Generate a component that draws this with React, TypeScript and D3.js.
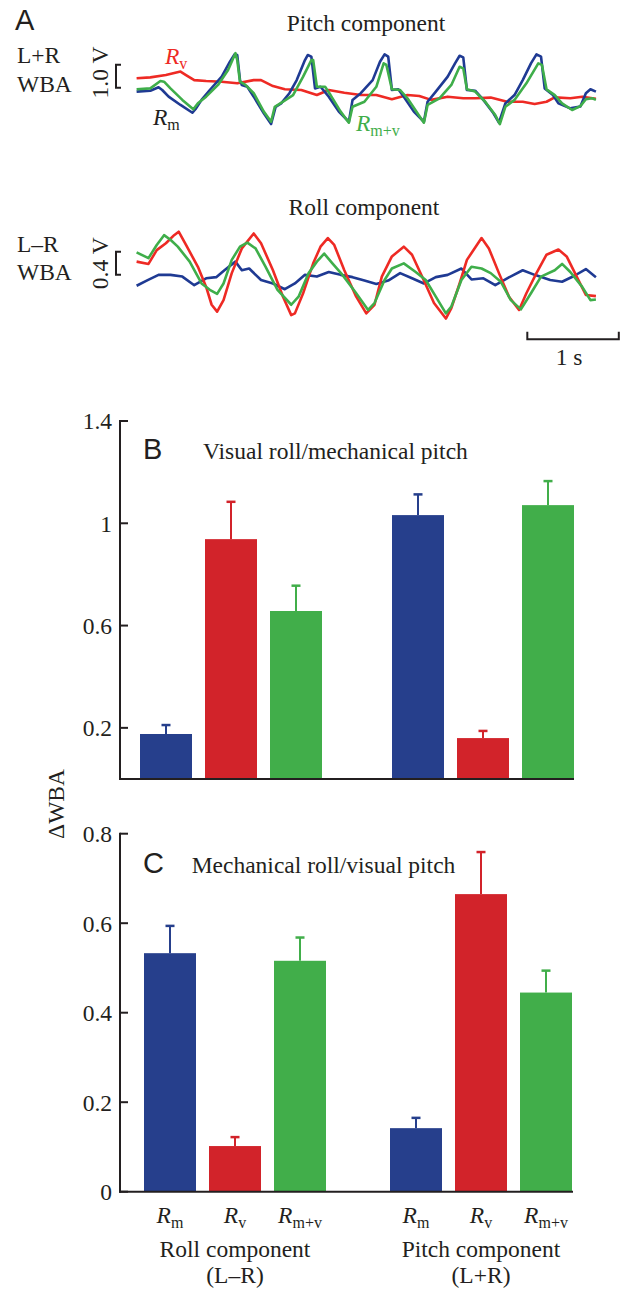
import React from "react";
import * as d3 from "d3";

// ---------- Panel A data (time in s, WBA in V) ----------
const pitchRm: [number, number][] = [
  [0, -0.07], [0.15, -0.03], [0.24, 0.12], [0.28, 0.0], [0.35, -0.29], [0.48, -0.65], [0.61, -0.99], [0.65, -0.8],
  [0.71, -0.43], [0.8, 0], [0.93, 0.58], [1.02, 1.23], [1.07, 1.55], [1.1, 1.52], [1.13, 0.43], [1.15, 0.22],
  [1.21, 0.14], [1.28, -0.29], [1.39, -1.01], [1.47, -1.48], [1.52, -0.73], [1.58, -0.58], [1.67, -0.14], [1.75, 0.43],
  [1.84, 1.3], [1.87, 1.52], [1.91, 1.45], [1.95, 0.07], [2.01, 0.14], [2.1, -0.29], [2.21, -0.94], [2.32, -1.38],
  [2.36, -0.43], [2.45, -0.14], [2.58, 0.43], [2.66, 1.23], [2.71, 1.55], [2.75, 1.45], [2.79, 0], [2.86, 0.03],
  [2.92, -0.29], [3.03, -0.94], [3.14, -1.38], [3.18, -0.51], [3.27, -0.07], [3.4, 0.58], [3.48, 1.16], [3.53, 1.49],
  [3.57, 1.42], [3.61, 0], [3.7, -0.03], [3.79, -0.43], [3.9, -1.01], [3.96, -1.42], [4.03, -0.58], [4.13, -0.22],
  [4.22, 0.43], [4.31, 1.16], [4.37, 1.55], [4.42, 1.45], [4.46, 0.07], [4.55, -0.22], [4.61, -0.58], [4.74, -0.8],
  [4.85, -0.72], [4.91, -0.14], [4.96, 0.03], [5.02, -0.07],
];
const pitchRmv: [number, number][] = [
  [0, 0.03], [0.15, 0.07], [0.26, 0.39], [0.3, 0.36], [0.37, 0.07], [0.5, -0.43], [0.62, -0.84], [0.67, -0.58],
  [0.76, -0.29], [0.89, 0.22], [1.0, 0.87], [1.08, 1.6], [1.1, 1.3], [1.13, 0.36], [1.19, 0.22], [1.28, -0.14],
  [1.39, -0.94], [1.47, -1.38], [1.51, -0.73], [1.6, -0.51], [1.71, -0.22], [1.82, 0.58], [1.91, 1.3], [1.93, 1.3],
  [1.97, 0.14], [2.06, 0.14], [2.12, -0.22], [2.23, -0.94], [2.32, -1.42], [2.36, -0.73], [2.49, -0.51], [2.62, 0.14],
  [2.7, 1.16], [2.73, 1.09], [2.79, 0.03], [2.88, 0], [2.96, -0.36], [3.07, -1.01], [3.14, -1.42], [3.18, -0.65],
  [3.31, -0.36], [3.44, 0.22], [3.53, 1.01], [3.57, 0.94], [3.61, 0.03], [3.7, -0.07], [3.81, -0.51], [3.92, -1.09],
  [3.97, -1.48], [4.03, -0.73], [4.13, -0.43], [4.26, 0.29], [4.39, 1.16], [4.43, 1.09], [4.48, 0.03], [4.57, -0.22],
  [4.65, -0.58], [4.76, -0.87], [4.85, -0.7], [4.91, -0.4], [4.98, -0.36], [5.02, -0.43],
];
const pitchRv: [number, number][] = [
  [0, 0.51], [0.15, 0.55], [0.32, 0.65], [0.48, 0.8], [0.54, 0.65], [0.63, 0.43], [0.76, 0.39], [0.93, 0.36],
  [1.1, 0.29], [1.28, 0.43], [1.36, 0.43], [1.49, 0.17], [1.62, 0.03], [1.8, 0], [1.97, -0.22], [2.1, 0],
  [2.27, -0.12], [2.45, -0.22], [2.62, -0.22], [2.79, -0.4], [2.96, -0.22], [3.09, -0.26], [3.22, -0.43], [3.4, -0.29],
  [3.57, -0.36], [3.7, -0.36], [3.87, -0.33], [4.05, -0.51], [4.22, -0.51], [4.35, -0.61], [4.48, -0.51], [4.57, -0.32],
  [4.74, -0.36], [4.87, -0.29], [5.02, -0.38],
];
const rollRm: [number, number][] = [
  [0, -0.17], [0.11, -0.08], [0.24, 0.02], [0.37, 0.02], [0.5, -0.01], [0.63, -0.16], [0.76, -0.04], [0.87, -0.02],
  [0.96, 0.1], [1.08, 0.25], [1.15, 0.1], [1.23, 0.13], [1.36, -0.07], [1.49, -0.13], [1.62, -0.23], [1.73, -0.13],
  [1.84, 0.02], [1.97, -0.01], [2.1, 0.07], [2.23, 0.02], [2.36, -0.02], [2.49, -0.08], [2.62, -0.14], [2.75, -0.08],
  [2.88, 0.05], [3.01, -0.04], [3.14, -0.13], [3.27, -0.02], [3.4, 0.02], [3.55, 0.13], [3.66, -0.06], [3.79, -0.04],
  [3.92, -0.16], [4.05, -0.04], [4.22, 0.1], [4.35, 0.02], [4.52, -0.07], [4.65, -0.1], [4.78, 0], [4.91, 0.12],
  [5.02, -0.02],
];
const rollRv: [number, number][] = [
  [0, 0.25], [0.13, 0.21], [0.22, 0.45], [0.32, 0.57], [0.41, 0.71], [0.46, 0.77], [0.54, 0.54], [0.67, 0.16],
  [0.76, -0.19], [0.82, -0.5], [0.88, -0.62], [0.95, -0.42], [1.04, 0.05], [1.15, 0.48], [1.28, 0.74], [1.36, 0.57],
  [1.49, 0.1], [1.6, -0.36], [1.69, -0.68], [1.73, -0.65], [1.82, -0.3], [1.93, 0.22], [2.01, 0.51], [2.09, 0.66],
  [2.16, 0.54], [2.27, 0.1], [2.4, -0.36], [2.51, -0.65], [2.6, -0.5], [2.68, -0.01], [2.79, 0.34], [2.92, 0.51],
  [3.01, 0.37], [3.12, -0.01], [3.25, -0.47], [3.38, -0.74], [3.44, -0.56], [3.53, -0.13], [3.61, 0.28], [3.77, 0.66],
  [3.85, 0.48], [3.96, 0.05], [4.07, -0.36], [4.18, -0.59], [4.26, -0.3], [4.37, 0.05], [4.48, 0.37], [4.61, 0.46],
  [4.7, 0.34], [4.81, -0.01], [4.91, -0.33], [5.02, -0.35],
];
const rollRmv: [number, number][] = [
  [0, 0.41], [0.13, 0.31], [0.22, 0.54], [0.3, 0.71], [0.37, 0.63], [0.45, 0.51], [0.58, 0.25], [0.71, -0.13],
  [0.8, -0.24], [0.88, -0.31], [0.95, -0.13], [1.04, 0.28], [1.13, 0.51], [1.21, 0.58], [1.3, 0.48], [1.41, 0.16],
  [1.54, -0.24], [1.69, -0.5], [1.77, -0.36], [1.88, 0.05], [1.97, 0.25], [2.05, 0.39], [2.14, 0.22], [2.25, 0.02],
  [2.4, -0.3], [2.53, -0.59], [2.6, -0.47], [2.71, -0.07], [2.79, 0.13], [2.92, 0.22], [3.05, 0.07], [3.16, -0.07],
  [3.27, -0.36], [3.38, -0.65], [3.44, -0.53], [3.55, -0.07], [3.66, 0.16], [3.77, 0.13], [3.87, 0.05], [3.98, -0.1],
  [4.09, -0.42], [4.2, -0.58], [4.31, -0.3], [4.42, -0.01], [4.57, 0.1], [4.65, 0.21], [4.74, 0.07], [4.87, -0.19],
  [4.96, -0.42], [5.02, -0.41],
];

// ---------- Panels B & C data ----------
const responses = ["m", "v", "m+v"];
const groupNames = ["Roll component", "Pitch component"];
const groupSubs = ["(L–R)", "(L+R)"];
const bRollMean = [0.176, 0.938, 0.657];
const bRollSem = [0.035, 0.146, 0.099];
const bPitchMean = [1.032, 0.16, 1.071];
const bPitchSem = [0.081, 0.028, 0.094];
const cRollMean = [0.533, 0.102, 0.516];
const cRollSem = [0.061, 0.02, 0.052];
const cPitchMean = [0.142, 0.665, 0.445];
const cPitchSem = [0.023, 0.094, 0.049];
const bTicks = [0.2, 0.6, 1, 1.4];
const bTickLabels = ["0.2", "0.6", "1", "1.4"];
const cTicks = [0, 0.2, 0.4, 0.6, 0.8];
const cTickLabels = ["0", "0.2", "0.4", "0.6", "0.8"];

const BAR_COLORS = ["#263f8c", "#d2232a", "#41ae4a"];
const TRACE_COLORS = { m: "#1f3a93", v: "#ee2a24", mv: "#3fae4a" };
const SERIF = "'Liberation Serif', 'Times New Roman', serif";
const SANS = "'Liberation Sans', Arial, sans-serif";
const FS = 23.5;
const AX = "#231f20";

const tScale = d3.scaleLinear().domain([0, 1]).range([136.6, 228.1]);
const pitchY = d3.scaleLinear().domain([0, 1]).range([90, 67]);
const rollY = d3.scaleLinear().domain([0, 0.4]).range([276, 253]);

function RLabel({ x, y, sub, color, anchor = "start" }: { x: number; y: number; sub: string; color: string; anchor?: string }) {
  return (
    <text x={x} y={y} fill={color} fontFamily={SERIF} fontSize={FS} textAnchor={anchor}>
      <tspan fontStyle="italic">R</tspan>
      <tspan fontSize={16} dy={5}>{sub}</tspan>
    </text>
  );
}

function Trace({ data, y, color }: { data: [number, number][]; y: d3.ScaleLinear<number, number>; color: string }) {
  const line = d3.line<[number, number]>().x((d) => tScale(d[0])).y((d) => y(d[1]));
  return <path d={line(data) || ""} fill="none" stroke={color} strokeWidth={2.6} strokeLinejoin="round" />;
}

function Bracket({ y, v0, v1, x }: { y: d3.ScaleLinear<number, number>; v0: number; v1: number; x: number }) {
  const a = y(v0), b = y(v1);
  return <path d={`M${x + 5},${a} H${x} V${b} H${x + 5}`} fill="none" stroke={AX} strokeWidth={2} />;
}

function BarPanel({
  yDomain, yRange, ticks, tickLabels, rollMean, rollSem, pitchMean, pitchSem, groupStarts, axisEnd,
  letter, letterY, title, titleX, showCats,
}: any) {
  const y = d3.scaleLinear().domain(yDomain).range(yRange);
  const axisX = 120;
  const y0 = y(0);
  const groups = [
    { mean: rollMean, sem: rollSem },
    { mean: pitchMean, sem: pitchSem },
  ];
  return (
    <g>
      {groups.map((g, gi) => {
        const xb = d3.scaleBand<string>().domain(responses).range([groupStarts[gi], groupStarts[gi] + 182]).paddingInner(0.2).paddingOuter(0);
        return (
          <g key={gi}>
            {responses.map((r, i) => {
              const x = xb(r)!;
              const w = xb.bandwidth();
              const top = y(g.mean[i]);
              const et = y(g.mean[i] + g.sem[i]);
              const cx = x + w / 2;
              return (
                <g key={r}>
                  <rect x={x} y={top} width={w} height={y0 - top} fill={BAR_COLORS[i]} />
                  <line x1={cx} x2={cx} y1={top} y2={et} stroke={BAR_COLORS[i]} strokeWidth={2} />
                  <line x1={cx - 4.5} x2={cx + 4.5} y1={et} y2={et} stroke={BAR_COLORS[i]} strokeWidth={2.5} />
                  {showCats && <RLabel x={cx} y={1222.7} sub={r} color="#231f20" anchor="middle" />}
                </g>
              );
            })}
            {showCats && (
              <>
                <text x={groupStarts[gi] + 91} y={1256.7} textAnchor="middle" fontFamily={SERIF} fontSize={FS} fill="#231f20">{groupNames[gi]}</text>
                <text x={groupStarts[gi] + 91} y={1282.7} textAnchor="middle" fontFamily={SERIF} fontSize={FS} fill="#231f20">{groupSubs[gi]}</text>
              </>
            )}
          </g>
        );
      })}
      <line x1={axisX} x2={axisX} y1={y(yDomain[1]) - 1} y2={y0 + 1} stroke={AX} strokeWidth={2} />
      <line x1={axisX - 1} x2={axisEnd} y1={y0} y2={y0} stroke={AX} strokeWidth={2} />
      {ticks.map((t: number, i: number) => (
        <g key={t}>
          <line x1={axisX} x2={axisX + 8} y1={y(t)} y2={y(t)} stroke={AX} strokeWidth={2} />
          <text x={112} y={y(t) + 8.3} textAnchor="end" fontFamily={SERIF} fontSize={FS} fill="#231f20">{tickLabels[i]}</text>
        </g>
      ))}
      <text x={143} y={letterY} fontFamily={SANS} fontSize={29} fill="#231f20">{letter}</text>
      <text x={titleX} y={letterY} fontFamily={SERIF} fontSize={FS} fill="#231f20">{title}</text>
    </g>
  );
}

export default function App() {
  return (
    <svg width={621} height={1291} style={{ position: "absolute", left: 0, top: 0, background: "#fff" }} fontFamily={SERIF}>
      {/* Panel A */}
      <text x={15} y={30} fontFamily={SANS} fontSize={29} fill="#231f20">A</text>
      <text x={366} y={31} textAnchor="middle" fontSize={FS} fill="#231f20">Pitch component</text>
      <text x={17} y={62.7} fontSize={FS} fill="#231f20">L+R</text>
      <text x={17} y={91.7} fontSize={FS} fill="#231f20">WBA</text>
      <text transform={`translate(108,${72.5}) rotate(-90)`} textAnchor="middle" fontSize={FS} fill="#231f20">1.0 V</text>
      <Bracket y={pitchY} v0={0.1} v1={1.1} x={116} />
      <Trace data={pitchRv} y={pitchY} color={TRACE_COLORS.v} />
      <Trace data={pitchRm} y={pitchY} color={TRACE_COLORS.m} />
      <Trace data={pitchRmv} y={pitchY} color={TRACE_COLORS.mv} />
      <RLabel x={165} y={64} sub="v" color={TRACE_COLORS.v} />
      <RLabel x={153} y={125} sub="m" color="#231f20" />
      <RLabel x={356} y={131} sub="m+v" color={TRACE_COLORS.mv} />

      <text x={364} y={215} textAnchor="middle" fontSize={FS} fill="#231f20">Roll component</text>
      <text x={17} y={252} fontSize={FS} fill="#231f20">L–R</text>
      <text x={17} y={280} fontSize={FS} fill="#231f20">WBA</text>
      <text transform={`translate(108,${263.3}) rotate(-90)`} textAnchor="middle" fontSize={FS} fill="#231f20">0.4 V</text>
      <Bracket y={rollY} v0={0.02} v1={0.42} x={116} />
      <Trace data={rollRm} y={rollY} color={TRACE_COLORS.m} />
      <Trace data={rollRv} y={rollY} color={TRACE_COLORS.v} />
      <Trace data={rollRmv} y={rollY} color={TRACE_COLORS.mv} />
      {/* scale bar: 1 s */}
      <path d={`M${tScale(4.27)},331.7 V339.3 H${tScale(5.27)} V331.7`} fill="none" stroke={AX} strokeWidth={2} />
      <text x={(tScale(4.27) + tScale(5.27)) / 2 - 4} y={365} textAnchor="middle" fontSize={FS} fill="#231f20">1 s</text>

      {/* Panel B */}
      <BarPanel
        yDomain={[0, 1.4]} yRange={[779, 421]} ticks={bTicks} tickLabels={bTickLabels}
        rollMean={bRollMean} rollSem={bRollSem} pitchMean={bPitchMean} pitchSem={bPitchSem}
        groupStarts={[140, 392]} axisEnd={574} letter="B" letterY={459.3}
        title="Visual roll/mechanical pitch" titleX={203} showCats={false}
      />
      {/* Panel C */}
      <BarPanel
        yDomain={[0, 0.8]} yRange={[1191.7, 833.7]} ticks={cTicks} tickLabels={cTickLabels}
        rollMean={cRollMean} rollSem={cRollSem} pitchMean={cPitchMean} pitchSem={cPitchSem}
        groupStarts={[144, 390]} axisEnd={573} letter="C" letterY={872.7}
        title="Mechanical roll/visual pitch" titleX={191.7} showCats={true}
      />
      <text transform="translate(64,804) rotate(-90)" textAnchor="middle" fontSize={FS} fill="#231f20">ΔWBA</text>
    </svg>
  );
}
